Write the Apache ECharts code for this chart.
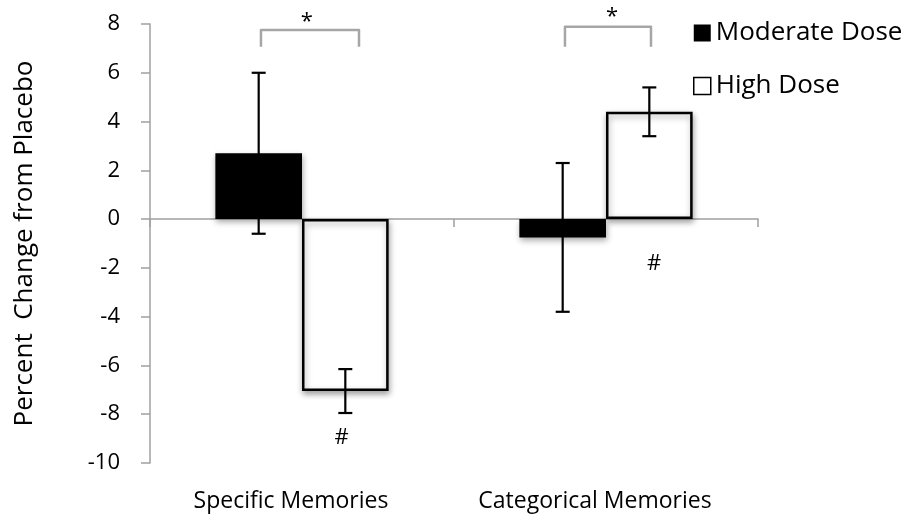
<!DOCTYPE html>
<html>
<head>
<meta charset="utf-8">
<script src="https://cdn.jsdelivr.net/npm/echarts@6/dist/echarts.min.js"></script>
<style>
html,body{margin:0;padding:0;background:#fff;}
#chart{width:916px;height:521px;}
</style>
</head>
<body>
<div id="chart"></div>
<script>
// ---- data ----
const categories = ['Specific Memories', 'Categorical Memories'];
const seriesNames = ['Moderate Dose', 'High Dose'];
const moderateValues = [2.7, -0.75];
const moderateErrors = [3.3, 3.05];
const highValues = [-7.05, 4.4];
const highErrors = [0.9, 1.0];
const yMin = -10, yMax = 8, yInterval = 2;
const yAxisTitle = 'Percent  Change from Placebo';
// significance brackets: [xStart, xEnd, yTop, yLegEnd] in category units
const bracketData = [[-0.135, 0.1875, 7.75, 7.07], [0.865, 1.148, 7.89, 7.07]];
const starMarks = [[0.016, 8.09, '*'], [1.02, 8.3, '*']];
const hashMarks = [[0.13, -8.97, '#'], [1.158, -1.83, '#']];

const FONT = '"Open Sans", sans-serif';
const chart = echarts.init(document.getElementById('chart'), null, {renderer: 'canvas'});

function errData(vals, errs) {
  return vals.map((v, i) => [i, v - errs[i], v + errs[i]]);
}
const BAR_FRAC = 0.1425; // bar centre offset as fraction of band width

function errorRender(sign) {
  return function (params, api) {
    const band = api.size([1, 0])[0];
    const lo = api.coord([api.value(0), api.value(1)]);
    const hi = api.coord([api.value(0), api.value(2)]);
    const x = lo[0] + sign * band * BAR_FRAC;
    const cap = 7;
    const style = {stroke: '#000', lineWidth: 2.2, fill: null};
    return {
      type: 'group',
      children: [
        {type: 'line', shape: {x1: x, y1: lo[1], x2: x, y2: hi[1]}, style},
        {type: 'line', shape: {x1: x - cap, y1: lo[1], x2: x + cap, y2: lo[1]}, style},
        {type: 'line', shape: {x1: x - cap, y1: hi[1], x2: x + cap, y2: hi[1]}, style}
      ]
    };
  };
}

const marks = starMarks.concat(hashMarks);

const option = {
  backgroundColor: '#fff',
  animation: false,
  textStyle: {fontFamily: FONT},
  grid: {left: 150, right: 158, top: 24, bottom: 58, containLabel: false},
  legend: {
    orient: 'vertical',
    left: 688,
    top: 15,
    itemWidth: 17,
    itemHeight: 17,
    itemGap: 27,
    textStyle: {fontFamily: FONT, fontSize: 26, color: '#000'},
    data: [
      {name: seriesNames[0], icon: 'rect', itemStyle: {color: '#000', borderWidth: 0}},
      {name: seriesNames[1], icon: 'rect', itemStyle: {color: '#fff', borderColor: '#000', borderWidth: 1.5}}
    ]
  },
  xAxis: [
    {
      type: 'category',
      data: categories,
      axisLine: {show: true, onZero: true, lineStyle: {color: '#a0a0a0', width: 1.5}},
      axisTick: {show: true, length: 8, lineStyle: {color: '#a0a0a0', width: 1.5}},
      axisLabel: {show: false},
      splitLine: {show: false}
    },
    {
      type: 'category',
      data: categories,
      position: 'bottom',
      axisLine: {show: false, onZero: false},
      axisTick: {show: false},
      axisLabel: {show: true, margin: 27, fontFamily: FONT, fontSize: 23, color: '#000', padding: [0, 22, 0, 0]},
      splitLine: {show: false}
    },
    {
      type: 'value',
      min: -0.5,
      max: 1.5,
      show: false
    }
  ],
  yAxis: {
    type: 'value',
    min: yMin,
    max: yMax,
    interval: yInterval,
    name: yAxisTitle,
    nameLocation: 'middle',
    nameGap: 112,
    nameTextStyle: {fontFamily: FONT, fontSize: 26, color: '#000'},
    axisLine: {show: true, onZero: false, lineStyle: {color: '#a0a0a0', width: 1.5}},
    axisTick: {show: true, length: 9, lineStyle: {color: '#a0a0a0', width: 1.5}},
    axisLabel: {margin: 30, fontFamily: FONT, fontSize: 22, color: '#000'},
    splitLine: {show: false}
  },
  series: [
    {
      name: seriesNames[0],
      type: 'bar',
      xAxisIndex: 0,
      data: moderateValues,
      barGap: '0%',
      barCategoryGap: '43%',
      itemStyle: {color: '#000', shadowBlur: 6, shadowColor: 'rgba(0,0,0,0.35)', shadowOffsetX: 1, shadowOffsetY: 3}
    },
    {
      name: seriesNames[1],
      type: 'bar',
      xAxisIndex: 0,
      data: highValues,
      barGap: '0%',
      barCategoryGap: '43%',
      itemStyle: {color: '#fff', borderColor: '#000', borderWidth: 2.5, shadowBlur: 6, shadowColor: 'rgba(0,0,0,0.35)', shadowOffsetX: 1, shadowOffsetY: 3}
    },
    {
      type: 'custom',
      xAxisIndex: 0,
      data: errData(moderateValues, moderateErrors),
      renderItem: errorRender(-1),
      z: 5,
      silent: true
    },
    {
      type: 'custom',
      xAxisIndex: 0,
      data: errData(highValues, highErrors),
      renderItem: errorRender(1),
      z: 5,
      silent: true
    },
    {
      type: 'custom',
      xAxisIndex: 2,
      data: bracketData,
      z: 5,
      silent: true,
      renderItem: function (params, api) {
        const a = api.coord([api.value(0), api.value(3)]);
        const b = api.coord([api.value(0), api.value(2)]);
        const c = api.coord([api.value(1), api.value(2)]);
        const d = api.coord([api.value(1), api.value(3)]);
        return {
          type: 'polyline',
          shape: {points: [a, b, c, d]},
          style: {stroke: '#a6a6a6', lineWidth: 2.5, fill: null, lineJoin: 'round', lineCap: 'butt'}
        };
      }
    },
    {
      type: 'custom',
      xAxisIndex: 2,
      data: marks,
      z: 5,
      silent: true,
      renderItem: function (params, api) {
        const p = api.coord([api.value(0), api.value(1)]);
        const item = marks[params.dataIndex];
        return {
          type: 'text',
          x: p[0], y: p[1],
          style: {text: item[2], fontFamily: FONT, fontSize: 22, fill: '#000', align: 'center', verticalAlign: 'middle'}
        };
      }
    }
  ]
};
chart.setOption(option);
</script>
</body>
</html>
